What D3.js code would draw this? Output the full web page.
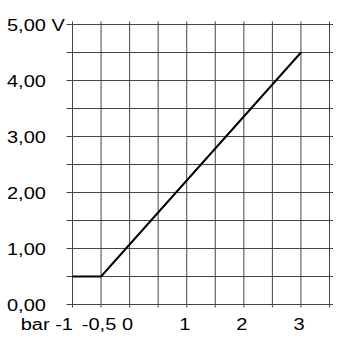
<!DOCTYPE html>
<html>
<head>
<meta charset="utf-8">
<script src="https://cdn.jsdelivr.net/npm/d3@7"></script>
<style>
  html, body { margin: 0; padding: 0; background: #fff; }
  svg { display: block; }
  text { font-family: "Liberation Sans", Arial, sans-serif; font-size: 16px; fill: #000; }
</style>
</head>
<body>
<svg id="chart" width="342" height="356"></svg>
<script>
  // pressure (bar) -> output (V)
  const pressure = [-1, -0.5, 3];
  const voltage = [0.5, 0.5, 4.5];

  const gridX = [-1, -0.5, 0, 0.5, 1, 1.5, 2, 2.5, 3, 3.5];
  const gridY = [0, 0.5, 1, 1.5, 2, 2.5, 3, 3.5, 4, 4.5, 5];

  const xLabels = [
    { v: -1, t: "bar -1" },
    { v: -0.5, t: "-0,5" },
    { v: 0, t: "0" },
    { v: 1, t: "1" },
    { v: 2, t: "2" },
    { v: 3, t: "3" },
  ];
  const yLabels = [
    { v: 0, t: "0,00" },
    { v: 1, t: "1,00" },
    { v: 2, t: "2,00" },
    { v: 3, t: "3,00" },
    { v: 4, t: "4,00" },
    { v: 5, t: "5,00 V" },
  ];

  const svg = d3.select("#chart");
  const x = d3.scaleLinear().domain([-1, 3.5]).range([72.5, 329.5]);
  const y = d3.scaleLinear().domain([0, 5]).range([304.5, 24.5]);
  const gridColor = "#444";
  const sx = 1.25; // the type in the original is set a bit wide

  // grid (extends past the frame to form the tick marks)
  svg.append("g")
    .selectAll("line")
    .data(gridY)
    .join("line")
    .attr("x1", x(-1) - 6)
    .attr("x2", x(3.5) + 3.5)
    .attr("y1", (d) => y(d))
    .attr("y2", (d) => y(d))
    .attr("stroke", gridColor)
    .attr("stroke-width", 1);

  svg.append("g")
    .selectAll("line")
    .data(gridX)
    .join("line")
    .attr("x1", (d) => x(d))
    .attr("x2", (d) => x(d))
    .attr("y1", y(5) - 3)
    .attr("y2", y(0) + 3)
    .attr("stroke", gridColor)
    .attr("stroke-width", 1);

  // characteristic curve
  const pts = pressure.map((p, i) => [p, voltage[i]]);
  svg.append("path")
    .datum(pts)
    .attr("fill", "none")
    .attr("stroke", "#000")
    .attr("stroke-width", 2)
    .attr("d", d3.line().x((d) => x(d[0])).y((d) => y(d[1])));

  // y labels, left aligned
  svg.append("g")
    .selectAll("text")
    .data(yLabels)
    .join("text")
    .attr("transform", (d) => `translate(7,${y(d.v) + 6.5}) scale(${sx},1)`)
    .text((d) => d.t);

  // x labels
  svg.append("g")
    .selectAll("text")
    .data(xLabels)
    .join("text")
    .attr("text-anchor", (d) => (d.v === -1 ? "end" : "middle"))
    .attr("transform", (d) => `translate(${d.v === -1 ? x(d.v) + 0.5 : x(d.v) - 2},330) scale(${sx},1)`)
    .text((d) => d.t);
</script>
</body>
</html>
